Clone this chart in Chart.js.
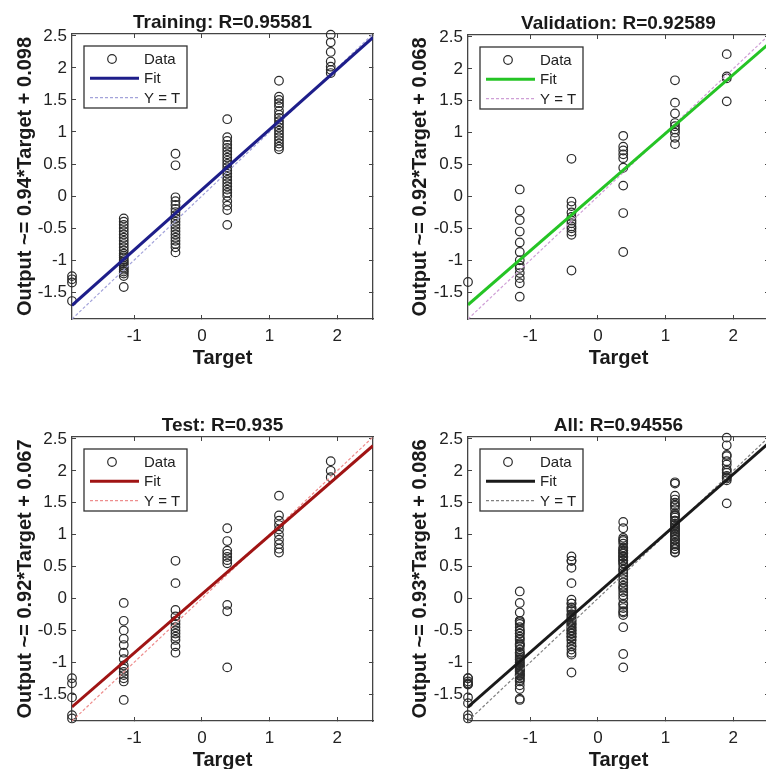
<!DOCTYPE html>
<html>
<head>
<meta charset="utf-8">
<title>Regression</title>
<script src="https://cdn.jsdelivr.net/npm/chart.js@4.4.1/dist/chart.umd.min.js"></script>
<style>
  html, body { margin: 0; padding: 0; background: #fff; overflow: hidden; width: 766px; height: 769px; }
  .panel { position: absolute; }
</style>
</head>
<body>
<div class="panel" style="left:0px;top:0px;width:383px;height:384px"><canvas id="c0"></canvas></div>
<div class="panel" style="left:383px;top:0px;width:400px;height:384px"><canvas id="c1"></canvas></div>
<div class="panel" style="left:0px;top:384px;width:383px;height:400px"><canvas id="c2"></canvas></div>
<div class="panel" style="left:383px;top:384px;width:400px;height:400px"><canvas id="c3"></canvas></div>
<script>

// target levels (x) and network outputs (y) per level

var targetLevels = [-1.92, -1.155, -0.39, 0.375, 1.14, 1.905];

var trainingOutputs = [
    [-1.25, -1.3, -1.35, -1.64],
    [-0.35, -0.4, -0.45, -0.5, -0.55, -0.6, -0.65, -0.7, -0.75, -0.8, -0.85, -0.9, -0.93, -0.96, -1.0, -1.03, -1.06, -1.09, -1.12, -1.15, -1.18, -1.21, -1.25, -1.42],
    [0.66, 0.48, -0.02, -0.08, -0.14, -0.2, -0.25, -0.3, -0.35, -0.4, -0.45, -0.5, -0.55, -0.6, -0.65, -0.7, -0.75, -0.8, -0.88],
    [1.2, 0.92, 0.86, 0.8, 0.75, 0.7, 0.65, 0.6, 0.55, 0.5, 0.45, 0.4, 0.35, 0.3, 0.25, 0.2, 0.15, 0.1, 0.05, 0.0, -0.08, -0.15, -0.22, -0.45],
    [1.8, 1.55, 1.5, 1.45, 1.4, 1.33, 1.27, 1.22, 1.17, 1.12, 1.07, 1.02, 0.97, 0.92, 0.87, 0.82, 0.77, 0.73],
    [2.52, 2.4, 2.25, 2.1, 2.02, 1.97, 1.92]
];

var validationOutputs = [
    [-1.34],
    [0.11, -0.22, -0.37, -0.55, -0.72, -0.87, -1.0, -1.08, -1.12, -1.2, -1.28, -1.36, -1.57],
    [0.59, -0.08, -0.15, -0.25, -0.32, -0.38, -0.42, -0.47, -0.5, -0.55, -0.6, -1.16],
    [0.95, 0.78, 0.72, 0.66, 0.6, 0.45, 0.17, -0.26, -0.87],
    [1.82, 1.47, 1.3, 1.15, 1.1, 1.05, 1.0, 0.92, 0.82],
    [2.23, 1.88, 1.85, 1.49]
];

var testOutputs = [
    [-1.25, -1.33, -1.55, -1.83, -1.88],
    [-0.07, -0.35, -0.5, -0.63, -0.73, -0.85, -0.95, -1.05, -1.1, -1.15, -1.2, -1.25, -1.3, -1.59],
    [0.59, 0.24, -0.18, -0.28, -0.35, -0.4, -0.45, -0.5, -0.55, -0.6, -0.65, -0.75, -0.85],
    [1.1, 0.9, 0.75, 0.7, 0.65, 0.6, 0.55, -0.1, -0.2, -1.08],
    [1.61, 1.3, 1.22, 1.15, 1.08, 1.0, 0.92, 0.85, 0.78, 0.72],
    [2.15, 2.0, 1.9]
];

var panelNames = ['Training', 'Validation', 'Test', 'All'];
var rValues = ['0.95581', '0.92589', '0.935', '0.94556'];
var fitSlopes = [0.94, 0.92, 0.92, 0.93];
var fitIntercepts = [0.098, 0.068, 0.067, 0.086];

var xTicks = [-1, 0, 1, 2];
var yTicks = [-1.5, -1, -0.5, 0, 0.5, 1, 1.5, 2, 2.5];
var axisMin = -1.92;
var axisMax = 2.53;

// "All" is every sample from the three subsets
var allOutputs = targetLevels.map(function (t, k) {
    return trainingOutputs[k].concat(validationOutputs[k], testOutputs[k]);
});
var panelOutputs = [trainingOutputs, validationOutputs, testOutputs, allOutputs];

// panel boxes + plot areas in page pixels, line colours
var panels = [
    { box: [0, 0, 383, 384],     area: [72, 34, 373, 319],   yTitleX: 25,  fit: '#1e1e8a', ident: '#a3a3da' },
    { box: [383, 0, 400, 384],   area: [468, 35, 769, 319],  yTitleX: 420, fit: '#25c425', ident: '#cf9fd6' },
    { box: [0, 384, 383, 400],   area: [72, 437, 373, 721],  yTitleX: 25,  fit: '#a01414', ident: '#ee8e8e' },
    { box: [383, 384, 400, 400], area: [468, 437, 769, 721], yTitleX: 420, fit: '#1a1a1a', ident: '#808080' }
];

var FONT = '"Liberation Sans", Arial, Helvetica, sans-serif';
var AXIS = '#444';

Chart.defaults.font.family = FONT;

// legend drawn as a framed box in the top-left of the plot
var boxLegend = {
    id: 'boxLegend',
    afterDatasetsDraw: function (chart) {
        var ctx = chart.ctx;
        var a = chart.chartArea;
        var bx = a.left + 12, by = a.top + 12, bw = 103, bh = 62;
        ctx.save();
        ctx.fillStyle = '#fff';
        ctx.fillRect(bx, by, bw, bh);
        ctx.strokeStyle = '#333';
        ctx.lineWidth = 1.3;
        ctx.strokeRect(bx, by, bw, bh);
        ctx.font = '15px ' + FONT;
        ctx.textBaseline = 'middle';
        chart.data.datasets.forEach(function (ds, k) {
            var yy = by + 13 + k * 19.3;
            ctx.strokeStyle = ds.borderColor;
            ctx.lineWidth = ds.borderWidth;
            ctx.setLineDash(ds.borderDash || []);
            ctx.beginPath();
            if (ds.type === 'scatter') {
                ctx.arc(bx + 28, yy, ds.pointRadius, 0, Math.PI * 2);
            } else {
                ctx.moveTo(bx + 6, yy);
                ctx.lineTo(bx + 55, yy);
            }
            ctx.stroke();
            ctx.setLineDash([]);
            ctx.fillStyle = '#222';
            ctx.fillText(ds.label, bx + 60, yy + 1);
        });
        ctx.restore();
    }
};

function makeChart(i) {
    var p = panels[i];
    var x0 = p.box[0], y0 = p.box[1], w = p.box[2], h = p.box[3];
    var l = p.area[0] - x0, t = p.area[1] - y0, r = p.area[2] - x0, b = p.area[3] - y0;

    var points = [];
    panelOutputs[i].forEach(function (col, k) {
        col.forEach(function (v) { points.push({ x: targetLevels[k], y: v }); });
    });
    var a = fitSlopes[i], c = fitIntercepts[i];
    var fitLine = [{ x: axisMin, y: a * axisMin + c }, { x: axisMax, y: a * axisMax + c }];
    var identLine = [{ x: axisMin, y: axisMin }, { x: axisMax, y: axisMax }];

    var setX = function (s) { s.ticks = xTicks.map(function (v) { return { value: v }; }); };
    var setY = function (s) { s.ticks = yTicks.map(function (v) { return { value: v }; }); };
    var grid = { drawOnChartArea: false, tickLength: -4, color: AXIS, tickColor: AXIS, lineWidth: 1 };
    var border = { display: true, color: AXIS, width: 1.3 };
    var tickFont = { family: FONT, size: 17 };
    var titleFont = { family: FONT, size: 20, weight: 'bold' };

    return new Chart(document.getElementById('c' + i), {
        data: {
            datasets: [
                { type: 'scatter', label: 'Data', data: points, xAxisID: 'x', yAxisID: 'y',
                  pointStyle: 'circle', pointRadius: 4.3, borderWidth: 1.2,
                  borderColor: '#2b2b2b', backgroundColor: 'rgba(0,0,0,0)', clip: false, order: 3 },
                { type: 'line', label: 'Fit', data: fitLine, xAxisID: 'x', yAxisID: 'y',
                  borderColor: p.fit, borderWidth: 3, pointRadius: 0, order: 1 },
                { type: 'line', label: 'Y = T', data: identLine, xAxisID: 'x', yAxisID: 'y',
                  borderColor: p.ident, borderWidth: 1.2, borderDash: [3, 2], pointRadius: 0, order: 2 }
            ]
        },
        options: {
            responsive: true,
            maintainAspectRatio: false,
            animation: false,
            layout: { padding: { left: 0, top: 0, right: w - r, bottom: 0 } },
            plugins: {
                legend: { display: false },
                tooltip: { enabled: false },
                title: {
                    display: true,
                    fullSize: false,
                    text: panelNames[i] + ': R=' + rValues[i],
                    color: '#1a1a1a',
                    font: { family: FONT, size: 19, weight: 'bold' },
                    padding: { top: t - 11.5 - 11.4, bottom: 0.1 }
                }
            },
            scales: {
                x: {
                    type: 'linear', position: 'bottom', min: axisMin, max: axisMax,
                    afterBuildTicks: setX,
                    afterFit: function (s) { s.height = h - b; },
                    grid: grid, border: border,
                    ticks: { padding: 11.5, color: '#222', font: tickFont, callback: function (v) { return String(v); } },
                    title: { display: true, text: 'Target', color: '#1a1a1a', font: titleFont,
                             padding: { top: 0, bottom: (h - b) - 39 - 12 } }
                },
                y: {
                    type: 'linear', position: 'left', min: axisMin, max: axisMax,
                    afterBuildTicks: setY,
                    afterFit: function (s) { s.width = l; },
                    grid: grid, border: border,
                    ticks: { padding: 9, color: '#222', font: tickFont, callback: function (v) { return String(v); } },
                    title: { display: true, text: 'Output ~= ' + a + '*Target + ' + c, color: '#1a1a1a', font: titleFont,
                             padding: { top: p.yTitleX - x0 - 12, bottom: 0 } }
                },
                x2: {
                    type: 'linear', position: 'top', min: axisMin, max: axisMax,
                    afterBuildTicks: setX,
                    afterFit: function (s) { s.height = 0; },
                    grid: grid, border: border,
                    ticks: { display: false }
                },
                y2: {
                    type: 'linear', position: 'right', min: axisMin, max: axisMax,
                    afterBuildTicks: setY,
                    afterFit: function (s) { s.width = 0; },
                    grid: grid, border: border,
                    ticks: { display: false }
                }
            }
        },
        plugins: [boxLegend]
    });
}

for (var i = 0; i < 4; i++) {
    makeChart(i);
}

</script>
</body>
</html>
